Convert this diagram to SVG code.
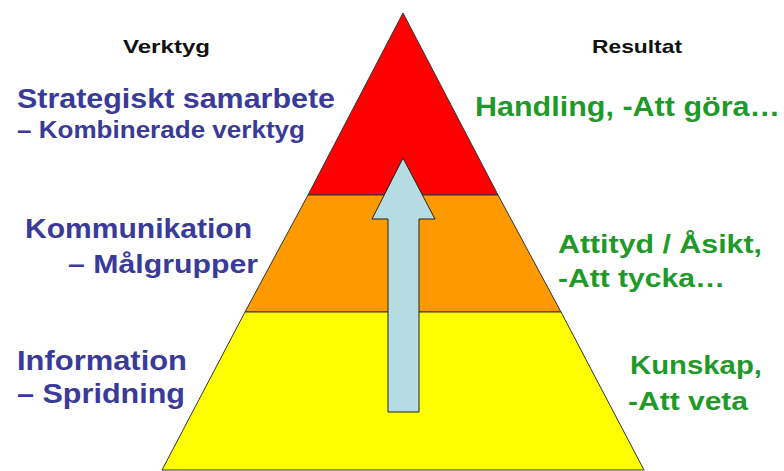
<svg xmlns="http://www.w3.org/2000/svg" width="784" height="471" viewBox="0 0 784 471">
<style>
text{font-family:"Liberation Sans",Arial,sans-serif;font-weight:bold}
.hd{fill:#111;font-size:19px}
.bl{fill:#3a3a98}
.gr{fill:#1f9a2a}
.band{stroke:#333;stroke-width:1}
</style>
<rect width="784" height="471" fill="#fff"/>
<g id="pyramid">
<polygon id="band-top" class="band" fill="#ff0000" points="403,13 498,195 308,195"/>
<polygon id="band-mid" class="band" fill="#ff9900" points="308,195 498,195 561,312 245,312"/>
<polygon id="band-bottom" class="band" fill="#ffff00" points="245,312 561,312 644,470 162,470"/>
</g>
<g id="connectors">
<polygon id="arrow" fill="#b4dce2" stroke="#222" stroke-width="1" points="403,158 435,219 419,219 419,412 388,412 388,219 372,219"/>
</g>
<g id="headers">
<text class="hd" x="123" y="53" textLength="87" lengthAdjust="spacingAndGlyphs">Verktyg</text>
<text class="hd" x="592" y="53" textLength="90" lengthAdjust="spacingAndGlyphs">Resultat</text>
</g>
<g id="tool-top">
<text class="bl" x="17" y="108" font-size="27" textLength="318" lengthAdjust="spacingAndGlyphs">Strategiskt samarbete</text>
<text class="bl" x="17" y="138" font-size="23" textLength="288" lengthAdjust="spacingAndGlyphs">– Kombinerade verktyg</text>
</g>
<g id="tool-mid">
<text class="bl" x="25" y="238" font-size="27" textLength="227" lengthAdjust="spacingAndGlyphs">Kommunikation</text>
<text class="bl" x="68" y="273" font-size="26" textLength="190" lengthAdjust="spacingAndGlyphs">– Målgrupper</text>
</g>
<g id="tool-bottom">
<text class="bl" x="17" y="370" font-size="27" textLength="170" lengthAdjust="spacingAndGlyphs">Information</text>
<text class="bl" x="17" y="403" font-size="27" textLength="168" lengthAdjust="spacingAndGlyphs">– Spridning</text>
</g>
<g id="result-top">
<text class="gr" x="475" y="116" font-size="28" textLength="305" lengthAdjust="spacingAndGlyphs">Handling, -Att göra…</text>
</g>
<g id="result-mid">
<text class="gr" x="558" y="253" font-size="26" textLength="204" lengthAdjust="spacingAndGlyphs">Attityd / Åsikt,</text>
<text class="gr" x="558" y="287" font-size="26" textLength="167" lengthAdjust="spacingAndGlyphs">-Att tycka…</text>
</g>
<g id="result-bottom">
<text class="gr" x="630" y="374" font-size="26" textLength="132" lengthAdjust="spacingAndGlyphs">Kunskap,</text>
<text class="gr" x="628" y="410" font-size="26" textLength="120" lengthAdjust="spacingAndGlyphs">-Att veta</text>
</g>
</svg>
